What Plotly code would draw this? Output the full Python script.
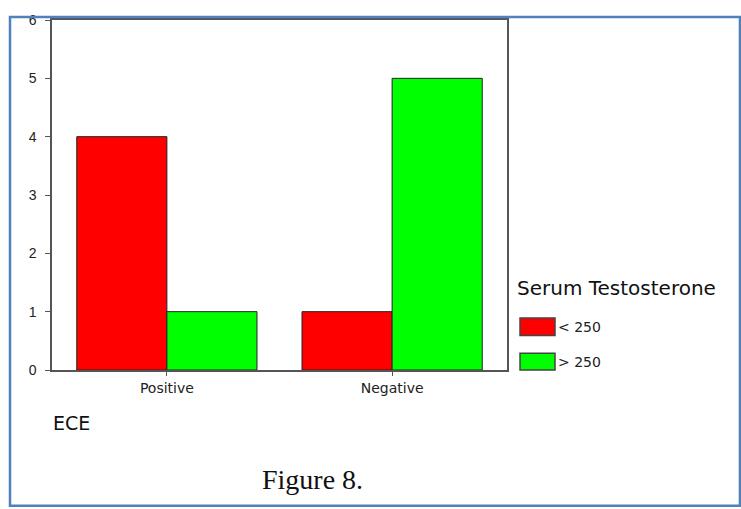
import plotly.graph_objects as go

categories = ["Positive", "Negative"]
series_names = ["< 250", "> 250"]
series_values = [[4, 1], [1, 5]]
series_colors = ["#ff0000", "#00ff00"]
y_ticks = [0, 1, 2, 3, 4, 5, 6]
legend_title = "Serum Testosterone"
x_title = "ECE"
caption = "Figure 8."

fig = go.Figure()
for name, vals, col in zip(series_names, series_values, series_colors):
    fig.add_trace(go.Bar(
        x=categories, y=vals, name=name,
        marker=dict(color=col, line=dict(color="#222222", width=1)),
        showlegend=False,
    ))

font_fam = "DejaVu Sans, Arial, sans-serif"
fig.update_layout(
    width=741, height=509,
    margin=dict(l=52, r=234, t=14, b=139),
    paper_bgcolor="white", plot_bgcolor="white",
    barmode="group", bargap=0.2, bargroupgap=0,
    xaxis=dict(
        type="category", categoryorder="array", categoryarray=categories,
        range=[-0.51, 1.51], showline=True, mirror=True, linecolor="#555555",
        linewidth=1.5, ticks="outside", ticklen=4, tickcolor="#555555",
        showgrid=False, zeroline=False,
        tickfont=dict(family=font_fam, size=14, color="#222222"),
    ),
    yaxis=dict(
        range=[0, 6], tickvals=y_ticks, showline=True, mirror=True,
        linecolor="#555555", linewidth=1.5, ticks="outside", ticklen=5,
        tickcolor="#555555", showgrid=False, zeroline=False,
        ticklabelstandoff=6,
        tickfont=dict(family="Liberation Sans, Arial, sans-serif", size=14, color="#222222"),
    ),
)

shapes = []
annotations = []
# outer frame
shapes.append(dict(type="rect", xref="paper", yref="paper",
                   x0=-0.0923, x1=1.512, y0=-0.3876, y1=1.0084,
                   line=dict(color="#4f81bd", width=2.5), fillcolor="rgba(0,0,0,0)"))
# legend title
annotations.append(dict(text=legend_title, xref="paper", yref="paper",
                        x=1.0176, y=0.2331, xanchor="left", yanchor="middle",
                        showarrow=False, font=dict(family=font_fam, size=20, color="#111111")))
# legend items
box_y = [(0.0983, 0.1489), (0.0, 0.0478)]
for name, col, (y0, y1) in zip(series_names, series_colors, box_y):
    shapes.append(dict(type="rect", xref="paper", yref="paper",
                       x0=1.0286, x1=1.1055, y0=y0, y1=y1,
                       line=dict(color="#444444", width=1.5), fillcolor=col))
    annotations.append(dict(text=name, xref="paper", yref="paper",
                            x=1.1077, y=(y0 + y1) / 2, xanchor="left", yanchor="middle",
                            showarrow=False, font=dict(family=font_fam, size=14, color="#222222")))
annotations.append(dict(text=x_title, xref="paper", yref="paper",
                        x=-0.002, y=-0.1517, xanchor="left", yanchor="middle",
                        showarrow=False, font=dict(family=font_fam, size=19, color="#111111")))
annotations.append(dict(text=caption, xref="paper", yref="paper",
                        x=0.5736, y=-0.3118, xanchor="center", yanchor="middle",
                        showarrow=False, font=dict(family="Liberation Serif, Times New Roman, serif",
                                                   size=28, color="#111111")))
fig.update_layout(shapes=shapes, annotations=annotations)

post = ("document.body.style.margin='0';document.body.style.overflow='hidden';"
        "var d=document.querySelector('.plotly-graph-div');"
        "d.style.position='fixed';d.style.top='0px';d.style.left='0px';")
fig.write_html("out.html", config={"displayModeBar": False}, post_script=post)
